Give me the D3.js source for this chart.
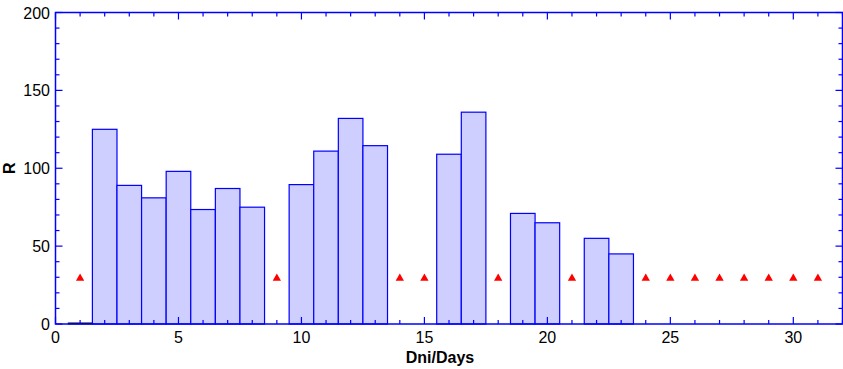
<!DOCTYPE html>
<html>
<head>
<meta charset="utf-8">
<script src="https://cdn.jsdelivr.net/npm/d3@7"></script>
<style>
  body { margin: 0; background: #fff; }
  text { font-family: "Liberation Sans", Arial, sans-serif; }
</style>
</head>
<body>
<div id="chart"></div>
<script>
// chart data
const DAYS = [2, 3, 4, 5, 6, 7, 8, 10, 11, 12, 13, 16, 17, 19, 20, 22, 23];
const R_VALUES = [125, 89, 81, 98, 73.5, 87, 75, 89.5, 111, 132, 114.5, 109, 136, 71, 65, 55, 45];
const ZERO_DAYS = [1];
const MISSING_DAYS = [1, 9, 14, 15, 18, 21, 24, 25, 26, 27, 28, 29, 30, 31];
const MISSING_LEVEL = 30;
const X_TICKS = [0, 5, 10, 15, 20, 25, 30];
const Y_TICKS = [0, 50, 100, 150, 200];

const FRAME_WIDTH = 843;
const FRAME_HEIGHT = 369;
const MARGINS = {left: 55.5, right: 0.5, top: 12.5, bottom: 45};
const VIS_WIDTH = FRAME_WIDTH - MARGINS.left - MARGINS.right;
const VIS_HEIGHT = FRAME_HEIGHT - MARGINS.top - MARGINS.bottom;

const BLUE = "#0000ff";

const svg = d3.select("#chart").append("svg")
  .attr("width", FRAME_WIDTH)
  .attr("height", FRAME_HEIGHT);

const X = d3.scaleLinear().domain([0, 32]).range([MARGINS.left, MARGINS.left + VIS_WIDTH]);
const Y = d3.scaleLinear().domain([0, 200]).range([MARGINS.top + VIS_HEIGHT, MARGINS.top]);

// bars
svg.selectAll(".bar")
  .data(DAYS)
  .enter()
  .append("rect")
    .attr("class", "bar")
    .attr("x", (d) => X(d - 0.5))
    .attr("width", X(1) - X(0))
    .attr("y", (d, i) => Y(R_VALUES[i]))
    .attr("height", (d, i) => Y(0) - Y(R_VALUES[i]))
    .attr("fill", "#cfcfff")
    .attr("stroke", BLUE)
    .attr("stroke-width", 1.2);

// zero-height bar shown as black line
svg.selectAll(".zero")
  .data(ZERO_DAYS)
  .enter()
  .append("line")
    .attr("x1", (d) => X(d - 0.5))
    .attr("x2", (d) => X(d + 0.5))
    .attr("y1", Y(0) - 0.5)
    .attr("y2", Y(0) - 0.5)
    .attr("stroke", "#000")
    .attr("stroke-width", 2);

// missing-value markers
const tri = d3.symbol().type(d3.symbolTriangle).size(30);
svg.selectAll(".tri")
  .data(MISSING_DAYS)
  .enter()
  .append("path")
    .attr("d", tri)
    .attr("transform", (d) => "translate(" + X(d) + "," + (Y(MISSING_LEVEL) + 1) + ")")
    .attr("fill", "#ff0000");

// axes with inward ticks
const xMinor = d3.range(0, 33);
const yMinor = d3.range(0, 201, 10);

function drawTicks(g, vals, scale, horiz, base, dir) {
  g.selectAll(null)
    .data(vals)
    .enter()
    .append("line")
      .attr("x1", (d) => horiz ? scale(d) : base)
      .attr("x2", (d) => horiz ? scale(d) : base + dir * (d % 50 === 0 || (horiz && d % 5 === 0) ? 7 : 4))
      .attr("y1", (d) => horiz ? base : scale(d))
      .attr("y2", (d) => horiz ? base + dir * (d % 5 === 0 ? 7 : 4) : scale(d))
      .attr("stroke", BLUE)
      .attr("stroke-width", 1.2);
}

const axes = svg.append("g");
drawTicks(axes, xMinor, X, true, Y(0), -1);
drawTicks(axes, xMinor, X, true, Y(200), 1);
drawTicks(axes, yMinor, Y, false, X(0), 1);
drawTicks(axes, yMinor, Y, false, X(32), -1);

svg.append("rect")
  .attr("x", X(0))
  .attr("y", Y(200))
  .attr("width", X(32) - X(0))
  .attr("height", Y(0) - Y(200))
  .attr("fill", "none")
  .attr("stroke", BLUE)
  .attr("stroke-width", 1.5);

// tick labels
svg.selectAll(".xlab")
  .data(X_TICKS)
  .enter()
  .append("text")
    .attr("x", (d) => X(d))
    .attr("y", 343)
    .attr("text-anchor", "middle")
    .attr("font-size", 16)
    .text((d) => d);

svg.selectAll(".ylab")
  .data(Y_TICKS)
  .enter()
  .append("text")
    .attr("x", 50)
    .attr("y", (d) => Y(d) + 6)
    .attr("text-anchor", "end")
    .attr("font-size", 16)
    .text((d) => d);

// axis titles
svg.append("text")
  .attr("x", 440)
  .attr("y", 363)
  .attr("text-anchor", "middle")
  .attr("font-size", 16)
  .attr("font-weight", "bold")
  .text("Dni/Days");

svg.append("text")
  .attr("transform", "translate(15," + Y(100) + ") rotate(-90)")
  .attr("text-anchor", "middle")
  .attr("font-size", 16)
  .attr("font-weight", "bold")
  .text("R");
</script>
</body>
</html>
